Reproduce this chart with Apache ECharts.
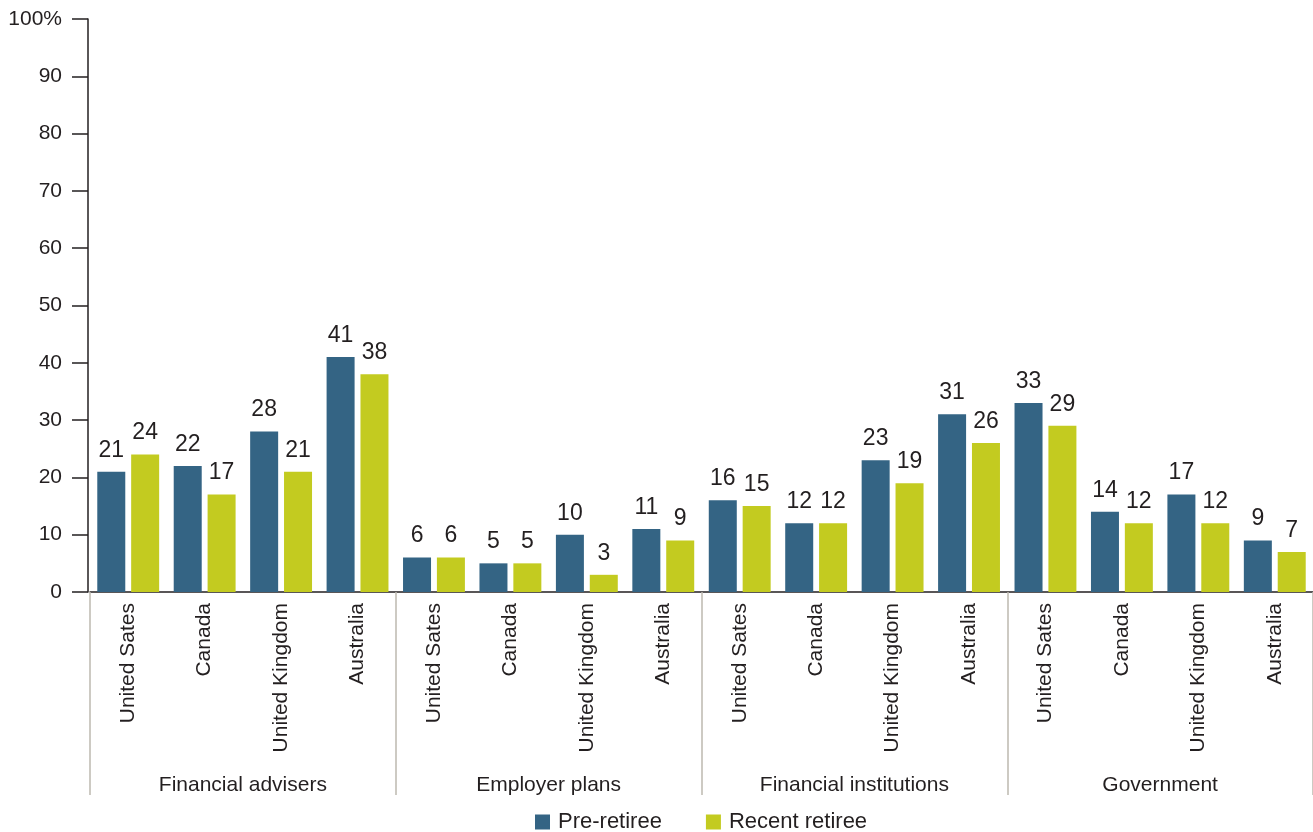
<!DOCTYPE html>
<html>
<head>
<meta charset="utf-8">
<script src="https://cdn.jsdelivr.net/npm/echarts@6/dist/echarts.min.js"></script>
<style>
  html, body { margin: 0; padding: 0; background: #fff; }
  #chart { width: 1313px; height: 832px; }
</style>
</head>
<body>
<div id="chart"></div>
<script>
// Countries repeated within each source group
const countries = ['United Sates', 'Canada', 'United Kingdom', 'Australia'];
const groups = ['Financial advisers', 'Employer plans', 'Financial institutions', 'Government'];
const yTicks = [0, 10, 20, 30, 40, 50, 60, 70, 80, 90, 100];

// Share of respondents (%) per country, group by group
const preRetiree = [21, 22, 28, 41, 6, 5, 10, 11, 16, 12, 23, 31, 33, 14, 17, 9];
const recentRetiree = [24, 17, 21, 38, 6, 5, 3, 9, 15, 12, 19, 26, 29, 12, 12, 7];

const categories = [];
groups.forEach(function () { countries.forEach(function (c) { categories.push(c); }); });

const FONT = '"Liberation Sans", Arial, sans-serif';
const TEXT = '#231f20';

const chart = echarts.init(document.getElementById('chart'), null, { renderer: 'canvas' });

const valueLabel = {
  show: true,
  position: 'top',
  distance: 10,
  color: TEXT,
  fontFamily: FONT,
  fontSize: 23
};

chart.setOption({
  animation: false,
  textStyle: { fontFamily: FONT },
  grid: { left: 90, right: 0, top: 19, bottom: 240, containLabel: false },
  legend: {
    left: 530,
    top: 806,
    itemWidth: 15,
    itemHeight: 15,
    itemGap: 44,
    icon: 'rect',
    textStyle: { color: TEXT, fontFamily: FONT, fontSize: 22, padding: [0, 0, 0, 3] },
    data: ['Pre-retiree', 'Recent retiree']
  },
  xAxis: [
    {
      type: 'category',
      data: categories,
      axisLine: { lineStyle: { color: '#231f20', width: 1.5 } },
      axisTick: { show: false },
      axisLabel: {
        interval: 0,
        rotate: 90,
        margin: 11,
        color: TEXT,
        fontFamily: FONT,
        fontSize: 21
      }
    },
    {
      type: 'category',
      data: groups,
      position: 'bottom',
      axisLine: { show: false },
      axisTick: {
        show: true,
        alignWithLabel: false,
        interval: 0,
        length: 203,
        lineStyle: { color: '#bdb9b0', width: 1.5 }
      },
      axisLabel: {
        interval: 0,
        margin: 183,
        color: TEXT,
        fontFamily: FONT,
        fontSize: 21
      }
    }
  ],
  yAxis: {
    type: 'value',
    offset: 2,
    min: yTicks[0],
    max: yTicks[yTicks.length - 1],
    interval: 10,
    axisLine: { show: true, lineStyle: { color: '#231f20', width: 1.5 } },
    axisTick: { show: true, length: 16, lineStyle: { color: '#231f20', width: 1.5 } },
    splitLine: { show: false },
    axisLabel: {
      margin: 26,
      color: TEXT,
      fontFamily: FONT,
      fontSize: 21,
      formatter: function (v) { return v === 100 ? '100%' : String(v); }
    }
  },
  series: [
    {
      name: 'Pre-retiree',
      type: 'bar',
      xAxisIndex: 0,
      data: preRetiree,
      barWidth: 28,
      barGap: '21%',
      itemStyle: { color: '#346484' },
      label: valueLabel
    },
    {
      name: 'Recent retiree',
      type: 'bar',
      xAxisIndex: 0,
      data: recentRetiree,
      barWidth: 28,
      barGap: '21%',
      itemStyle: { color: '#c3cb20' },
      label: valueLabel
    }
  ]
});
</script>
</body>
</html>
